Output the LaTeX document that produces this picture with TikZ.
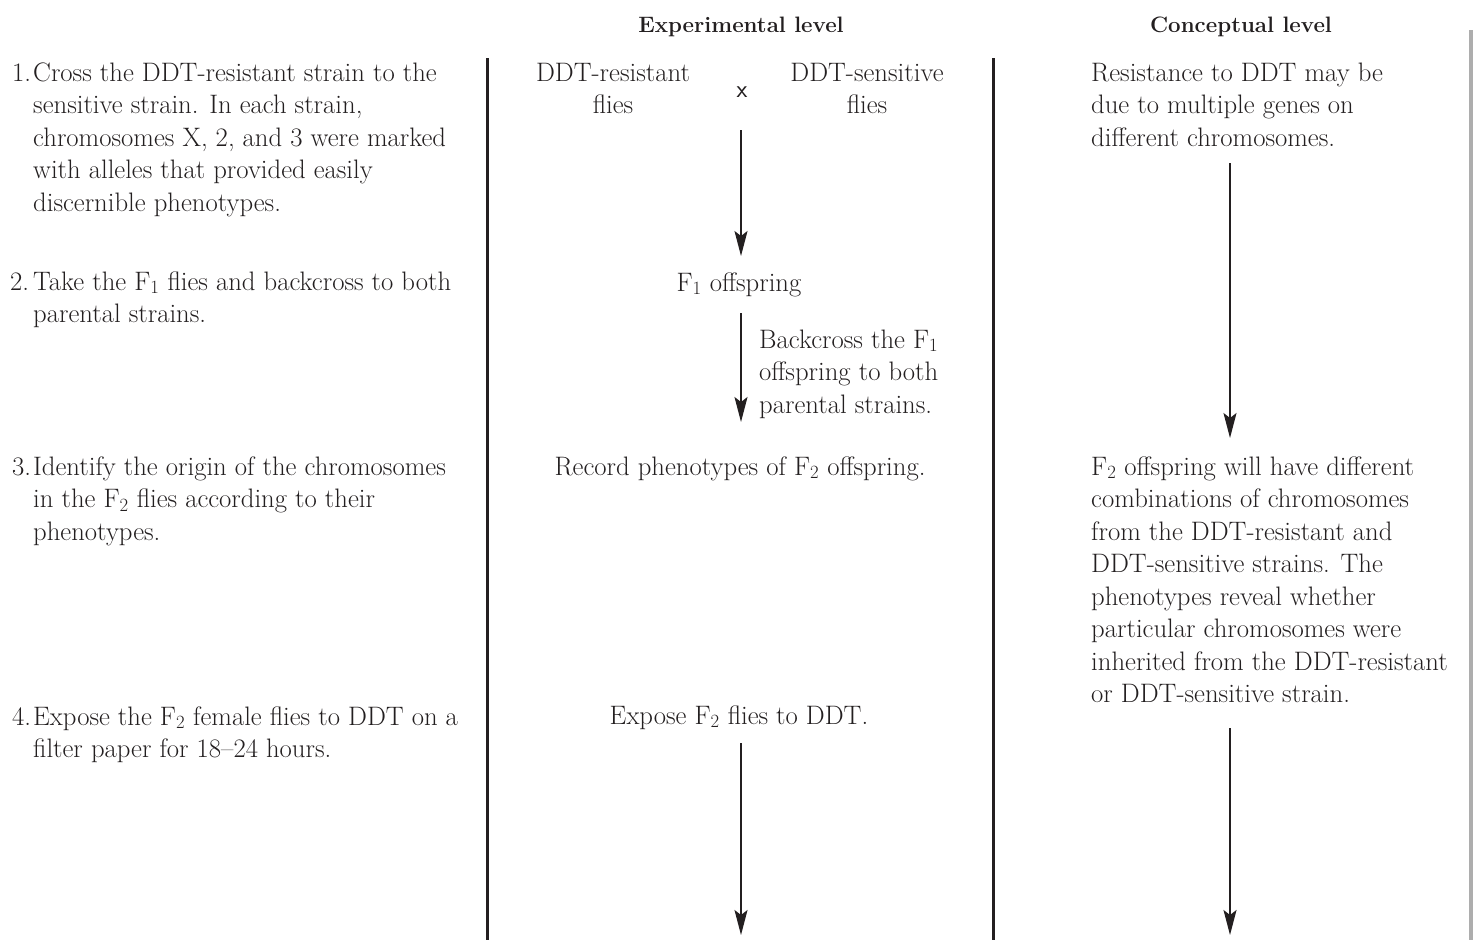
\documentclass[tikz,border=0pt]{standalone}
\usetikzlibrary{arrows.meta}
\definecolor{ink}{HTML}{231F20}
\begin{document}
\begin{tikzpicture}[x=1pt,y=-1pt,
  every node/.style={inner sep=0pt, text=ink},
  txt/.style={font=\fontsize{26.7}{32.5}\selectfont, align=left, anchor=north west},
  ctxt/.style={font=\fontsize{26.7}{32.5}\selectfont, align=center, anchor=north},
  head/.style={font=\fontsize{22.3}{28}\selectfont\bfseries, anchor=base},
  divider/.style={line width=3pt, draw=ink},
  arr/.style={line width=1.6pt, draw=ink, -{Stealth[length=25pt,width=13pt,inset=5pt]}}]
\useasboundingbox[fill=white] (0,0) rectangle (1473,940);

% headers
\node[head] (hexp) at (741,32) {Experimental level};
\node[head] (hcon) at (1241,32) {Conceptual level};

% dividers
\coordinate (d1t) at (487,58);
\coordinate (d1b) at (487,940);
\coordinate (d2t) at (993,58);
\coordinate (d2b) at (993,940);
\coordinate (d3t) at (1471,30);
\coordinate (d3b) at (1471,940);
\draw[divider] (d1t) -- (d1b);
\draw[divider] (d2t) -- (d2b);
\draw[line width=4pt, draw=black!32] (d3t) -- (d3b);

% left column: steps (node top = first baseline - 22.75)
\node[txt] (n1) at (12,58.25) {\strut 1.};
\node[txt] (s1) at (33,58.25) {\strut Cross the DDT-resistant strain to the\\sensitive strain. In each strain,\\chromosomes X, 2, and 3 were marked\\with alleles that provided easily\\discernible phenotypes.\strut};
\node[txt] (n2) at (10,267.25) {\strut 2.};
\node[txt] (s2) at (33,267.25) {\strut Take the F\textsubscript{1} flies and backcross to both\\parental strains.\strut};
\node[txt] (n3) at (12,452.25) {\strut 3.};
\node[txt] (s3) at (33,452.25) {\strut Identify the origin of the chromosomes\\in the F\textsubscript{2} flies according to their\\phenotypes.\strut};
\node[txt] (n4) at (12,702.25) {\strut 4.};
\node[txt] (s4) at (33,702.25) {\strut Expose the F\textsubscript{2} female flies to DDT on a\\filter paper for 18--24 hours.\strut};

% middle column
\node[ctxt] (res) at (613,58.25) {\strut DDT-resistant\\flies\strut};
\node[ctxt] (sen) at (867,58.25) {\strut DDT-sensitive\\flies\strut};
\node[anchor=base, font=\fontsize{25}{26}\selectfont\sffamily] (xmark) at (742,97) {x};
\node[ctxt] (f1) at (739,268.25) {\strut F\textsubscript{1} offspring};
\node[txt] (bc) at (759,325.25) {\strut Backcross the F\textsubscript{1}\\offspring to both\\parental strains.\strut};
\node[ctxt] (rec) at (740,452.25) {\strut Record phenotypes of F\textsubscript{2} offspring.};
\node[ctxt] (exp) at (739,701.25) {\strut Expose F\textsubscript{2} flies to DDT.};
\coordinate (colM) at (741,0);
\coordinate (endM) at (741,935);

\draw[arr, shorten <=33pt, shorten >=12.25pt] (colM |- xmark.south) -- (colM |- f1.north);
\draw[arr, shorten <=12.25pt, shorten >=30.25pt] (colM |- f1.south) -- (colM |- rec.north);
\draw[arr, shorten <=9.25pt] (colM |- exp.south) -- (endM);

% right column
\node[txt] (c1) at (1091,58.25) {\strut Resistance to DDT may be\\due to multiple genes on\\different chromosomes.\strut};
\node[txt] (c2) at (1091,452.25) {\strut F\textsubscript{2} offspring will have different\\combinations of chromosomes\\from the DDT-resistant and\\DDT-sensitive strains. The\\phenotypes reveal whether\\particular chromosomes were\\inherited from the DDT-resistant\\or DDT-sensitive strain.\strut};
\coordinate (colR) at (1230,0);
\coordinate (endR) at (1230,935);
\draw[arr, shorten <=7.25pt, shorten >=14.25pt] (colR |- c1.south) -- (colR |- c2.north);
\draw[arr, shorten <=15.75pt] (colR |- c2.south) -- (endR);
\end{tikzpicture}
\end{document}
